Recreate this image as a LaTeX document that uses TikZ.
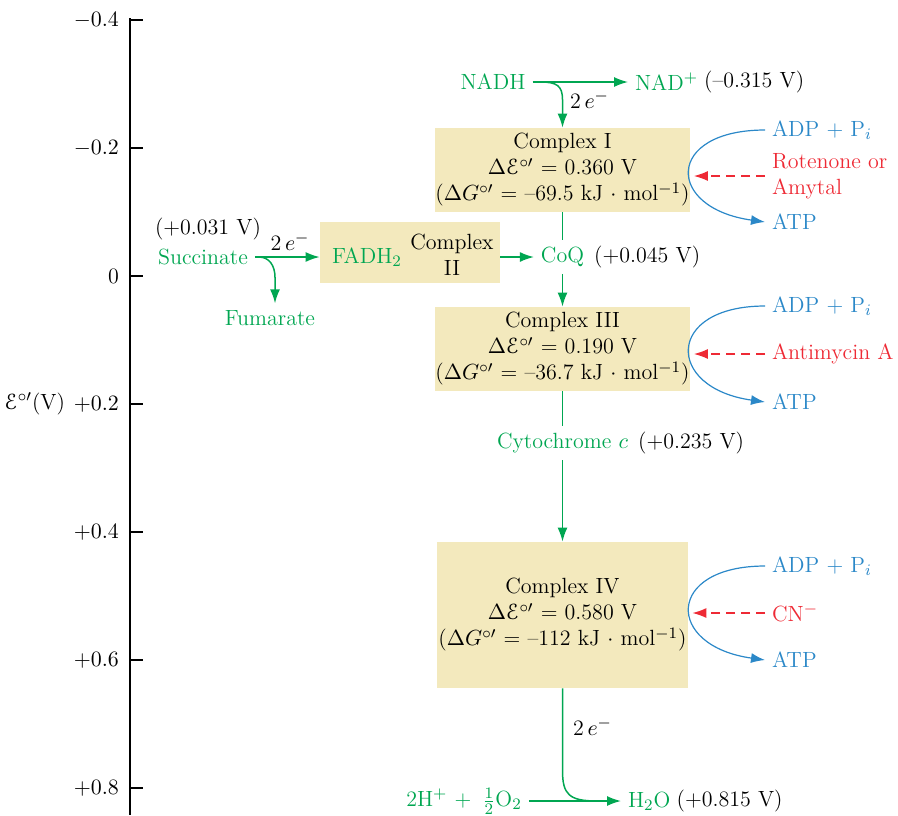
\documentclass[tikz,border=0pt]{standalone}
\usepackage{amsmath}
\usepackage[mathscr]{eucal}
\usepackage{xcolor}
\usepackage{tikz}
\usetikzlibrary{arrows.meta,calc,positioning}
\newcommand{\Eo}{\mathscr{E}^{\circ\prime}}
\newcommand{\emin}{2\,$e^{-}$}
\definecolor{etcgreen}{HTML}{00A651}
\definecolor{atpblue}{HTML}{2B88C8}
\definecolor{inhred}{HTML}{EE2A35}
\definecolor{boxtan}{HTML}{F3E9BD}
\tikzset{
  axis/.style={line width=0.7pt},
  elec/.style={etcgreen,line width=0.75pt},
  elecarr/.style={elec,-{Latex[length=7pt,width=5pt]}},
  atparc/.style={atpblue,line width=0.6pt,-{Latex[length=7pt,width=5pt]}},
  inhib/.style={inhred,line width=0.6pt,dash pattern=on 4.5pt off 3pt,-{Latex[length=7pt,width=5pt]},shorten >=2pt},
  cplx/.style={fill=boxtan,minimum width=125.5pt,minimum height=42pt,align=center,inner sep=0pt},
  gtxt/.style={text=etcgreen},
  btxt/.style={text=atpblue},
  rtxt/.style={text=inhred},
}
\begin{document}
\begin{tikzpicture}[x=0.5pt,y=-0.5pt,font=\fontsize{11}{13}\selectfont]
  \useasboundingbox (0,0) rectangle (898,815);
  % potential axis
  \draw[axis] (130,18) -- (130,815);
  \foreach \v/\y/\n in {$-0.4$/20/a,$-0.2$/148/b,0/276/c,$+0.2$/404/d,$+0.4$/532/e,$+0.6$/660/f,$+0.8$/788/g} {
    \draw[axis] (130,\y) -- (143,\y);
    \node[left] (tick\n) at (126,\y) {\v};
  }
  \node[left] (axlabel) at (72,404) {$\Eo$(V)};

  % complexes
  \node[cplx] (cI) at (562.5,170) {Complex I\\$\Delta\Eo$ = 0.360 V\\($\Delta G^{\circ\prime}$ = --69.5 kJ $\cdot$ mol$^{-1}$)};
  \node[cplx] (cIII) at (562.5,349) {Complex III\\$\Delta\Eo$ = 0.190 V\\($\Delta G^{\circ\prime}$ = --36.7 kJ $\cdot$ mol$^{-1}$)};
  \node[cplx,minimum height=73pt] (cIV) at (562.5,615) {Complex IV\\$\Delta\Eo$ = 0.580 V\\($\Delta G^{\circ\prime}$ = --112 kJ $\cdot$ mol$^{-1}$)};
  \node[cplx,minimum width=90pt,minimum height=30.5pt] (cII) at (410,252.5) {};
  \node[gtxt] (fadh) at (367,257) {FADH$_2$};
  \node[align=center] (cIIlab) at (452,255) {Complex\\II};

  % carriers
  \node[gtxt] (nadh) at (493,82) {NADH};
  \node[gtxt,right] (nad) at (628,82) {NAD$^+$};
  \node[right=-4pt of nad] (v315) {(--0.315 V)};
  \node[right] (e1) at (563,100) {\emin};
  \node[gtxt] (coq) at (562.5,257) {CoQ};
  \node[right=-2pt of coq] (v045) {(+0.045 V)};
  \node[gtxt] (cyt) at (562.5,443) {Cytochrome $c$};
  \node[right=-2pt of cyt] (v235) {(+0.235 V)};
  \node[gtxt] (succ) at (203,257) {Succinate};
  \node (v031) at (208,229) {(+0.031 V)};
  \node (e2) at (290,242) {\emin};
  \node[gtxt] (fum) at (270,318) {Fumarate};
  \node[gtxt] (oxy) at (464,801) {2H$^+$ + \,$\frac{1}{2}$O$_2$};
  \node[gtxt,right] (water) at (621,801) {H$_2$O};
  \node[right=-4pt of water] (v815) {(+0.815 V)};
  \node[right] (e3) at (566,727) {\emin};

  % electron flow
  \draw[elecarr] (nadh.east) -- (nad.west);
  \draw[elecarr] ($(nadh.east)+(8,0)$) .. controls +(16,0) and +(0,-14) .. ($(cI.north)+(0,-28)$) -- (cI.north);
  \draw[elecarr] (succ.east) -- (succ.east -| cII.west);
  \draw[elecarr] ($(succ.east)+(4,0)$) .. controls +(10,0) and +(0,-12) .. ($(fum.north)+(5,-26)$) -- ($(fum.north)+(5,0)$);
  \draw[elecarr] (coq.west -| cII.east) -- (coq.west);
  \draw[elec] (cI.south) -- (coq.north);
  \draw[elecarr] (coq.south) -- (cIII.north);
  \draw[elec] (cIII.south) -- (cyt.north);
  \draw[elecarr] (cyt.south) -- (cIV.north);
  \coordinate (join) at ($(water.west)+(-24,0)$);
  \draw[elec] (cIV.south) -- ($(cIV.south)+(0,82)$) .. controls +(0,24) and +(-28,0) .. (join);
  \draw[elecarr] (oxy.east) -- (water.west);

  % ATP coupling and inhibitors
  \foreach \c/\ya/\yb/\inh in {I/130/222/{Rotenone or\\Amytal},III/306/402/{Antimycin A},IV/566/660/{CN$^-$}} {
    \node[btxt,right] (adp\c) at (765,\ya) {ADP + P$_i$};
    \node[btxt,right] (atp\c) at (765,\yb) {ATP};
    \node[rtxt,right,align=left] (inh\c) at (765,{(\ya+\yb)/2}) {\inh};
    \draw[atparc] (adp\c.west) .. controls +(-100,0) and +(-100,-14) .. (atp\c.west);
    \draw[inhib] (inh\c.west) -- (inh\c.west -| c\c.east);
  }
\end{tikzpicture}
\end{document}
